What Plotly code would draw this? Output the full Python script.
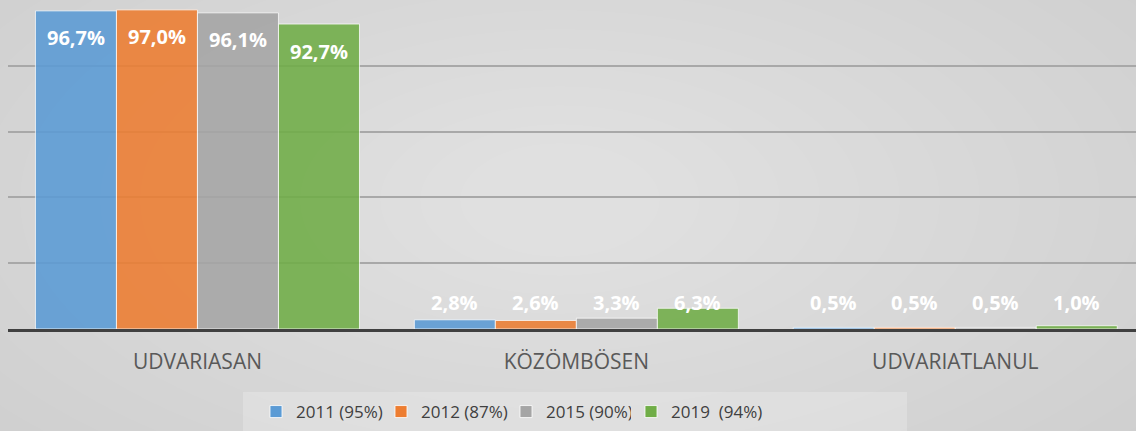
import plotly.graph_objects as go

categories = ["UDVARIASAN", "KÖZÖMBÖSEN", "UDVARIATLANUL"]
series_names = ["2011 (95%)", "2012 (87%)", "2015 (90%)", "2019  (94%)"]
values_2011 = [0.967, 0.028, 0.005]
values_2012 = [0.970, 0.026, 0.005]
values_2015 = [0.961, 0.033, 0.005]
values_2019 = [0.927, 0.063, 0.010]
labels_2011 = ["96,7%", "2,8%", "0,5%"]
labels_2012 = ["97,0%", "2,6%", "0,5%"]
labels_2015 = ["96,1%", "3,3%", "0,5%"]
labels_2019 = ["92,7%", "6,3%", "1,0%"]
y_ticks = [0, 0.2, 0.4, 0.6, 0.8, 1.0]

all_values = [values_2011, values_2012, values_2015, values_2019]
all_labels = [labels_2011, labels_2012, labels_2015, labels_2019]
colors = ["#5b9bd5", "#ed7d31", "#a5a5a5", "#70ad47"]

W, H = 1136, 431
ML, MR, MT, MB = 8, 0, 0, 102
pw = W - ML - MR
ph = H - MT - MB

xs = list(range(len(categories)))
bar_w = 0.2138
n = len(all_values)


def px2x(p):
    return (p - ML) / pw


def py2y(p):
    return (MT + ph - p) / ph


fig = go.Figure()
annotations = []
for i, (vals, labs, col, name) in enumerate(zip(all_values, all_labels, colors, series_names)):
    off = -n * bar_w / 2 + i * bar_w
    fig.add_trace(go.Bar(
        x=xs, y=vals, name=name, width=bar_w, offset=off,
        marker=dict(color=col, opacity=0.88, line=dict(color="rgba(255,255,255,0.8)", width=1)),
        hoverinfo="skip",
        legend="legend" if i < n - 1 else "legend2",
    ))
    for xc, v, t in zip(xs, vals, labs):
        big = v > 0.5
        annotations.append(dict(
            x=xc + off + bar_w / 2, y=v if big else 0, xref="x", yref="y",
            text="<b>" + t + "</b>", showarrow=False,
            yanchor="middle" if big else "bottom",
            yshift=-27 if big else 11,
            font=dict(family="Open Sans", size=20, color="white"),
        ))

# soft radial background gradient
shapes = []
cx, cy = 560, 200
steps = 18
for k in range(steps):
    rx = 780 - k * 40
    ry = 380 - k * 19
    shapes.append(dict(
        type="circle", xref="paper", yref="paper",
        x0=px2x(cx - rx), x1=px2x(cx + rx), y0=py2y(cy + ry), y1=py2y(cy - ry),
        fillcolor="rgba(255,255,255,0.035)", line=dict(width=0), layer="below",
    ))
# legend box
shapes.append(dict(
    type="rect", xref="paper", yref="paper",
    x0=px2x(243), x1=px2x(907), y0=py2y(440), y1=py2y(392),
    fillcolor="rgba(255,255,255,0.22)", line=dict(width=0), layer="below",
))

legend_font = dict(family="Open Sans", size=17, color="#404040")
fig.update_layout(
    width=W, height=H,
    margin=dict(l=ML, r=MR, t=MT, b=MB),
    paper_bgcolor="#cecece",
    plot_bgcolor="rgba(0,0,0,0)",
    barmode="overlay",
    showlegend=True,
    shapes=shapes,
    annotations=annotations,
    font=dict(family="Open Sans", color="#595959"),
    legend=dict(
        orientation="h", x=px2x(256), xanchor="left", y=py2y(394), yanchor="top",
        bgcolor="rgba(0,0,0,0)", font=legend_font,
        entrywidth=80, entrywidthmode="pixels",
        traceorder="normal", itemclick=False,
    ),
    legend2=dict(
        orientation="h", x=px2x(256 + 375), xanchor="left", y=py2y(394), yanchor="top",
        bgcolor="rgba(0,0,0,0)", font=legend_font,
        traceorder="normal", itemclick=False,
    ),
    xaxis=dict(
        range=[-0.5, -0.5 + pw / 378.9], tickvals=xs, ticktext=categories,
        showgrid=False, zeroline=False, showline=True, linecolor="#404040", linewidth=3,
        ticks="", tickfont=dict(family="Open Sans", size=21, color="#595959"),
        ticklabelstandoff=12, fixedrange=True,
    ),
    yaxis=dict(
        range=[0, 1.0], tickvals=y_ticks, showticklabels=False,
        showgrid=True, gridcolor="#a8a8a8", gridwidth=1.5, zeroline=False, fixedrange=True,
    ),
)

fig.write_html("out.html", config={"displayModeBar": False},
               post_script="document.body.style.margin='0';")
